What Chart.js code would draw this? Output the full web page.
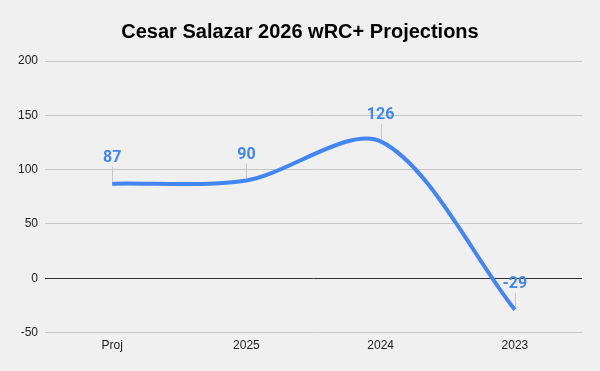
<!DOCTYPE html>
<html>
<head>
<meta charset="utf-8">
<script src="https://cdn.jsdelivr.net/npm/chart.js@4"></script>
<style>
  html, body { margin: 0; padding: 0; background: #f0f0f0; }
  #wrap { width: 600px; height: 371px; }
</style>
</head>
<body>
<div id="wrap"><canvas id="chart" width="600" height="371"></canvas></div>
<script>
const categories = ['Proj', '2025', '2024', '2023'];
const wrcValues = [87, 90, 126, -29];
const yTicks = [-50, 0, 50, 100, 150, 200];

const blue = '#4285F4';

// draws value labels above each point with a thin leader line
const valueLabels = {
  id: 'valueLabels',
  afterDatasetsDraw(chart) {
    const ctx = chart.ctx;
    const meta = chart.getDatasetMeta(0);
    ctx.save();
    meta.data.forEach((pt, i) => {
      ctx.strokeStyle = '#c8c8c8';
      ctx.lineWidth = 1;
      ctx.beginPath();
      ctx.moveTo(Math.round(pt.x) + 0.5, pt.y - 2);
      ctx.lineTo(Math.round(pt.x) + 0.5, pt.y - 17);
      ctx.stroke();
      ctx.fillStyle = blue;
      ctx.font = 'bold 16px Roboto, "Liberation Sans", sans-serif';
      ctx.textAlign = 'center';
      ctx.textBaseline = 'bottom';
      ctx.fillText(String(wrcValues[i]), pt.x, pt.y - 18);
    });
    ctx.restore();
  }
};

new Chart(document.getElementById('chart'), {
  type: 'line',
  data: {
    labels: categories,
    datasets: [{
      label: 'wRC+',
      data: wrcValues,
      borderColor: blue,
      borderWidth: 4,
      pointRadius: 0,
      tension: 0.3,
      fill: false
    }]
  },
  options: {
    responsive: false,
    animation: false,
    layout: { padding: { left: 18, right: 18, top: 0, bottom: 12 } },
    plugins: {
      legend: { display: false },
      tooltip: { enabled: false },
      title: {
        display: true,
        text: 'Cesar Salazar 2026 wRC+ Projections',
        color: '#000',
        font: { family: '"Liberation Sans", Arial, sans-serif', size: 20, weight: 'bold' },
        padding: { top: 20, bottom: 17 }
      }
    },
    scales: {
      x: {
        offset: true,
        grid: { display: false, drawTicks: false },
        border: { display: false },
        ticks: {
          color: '#222',
          padding: 6,
          font: { family: '"Liberation Sans", Arial, sans-serif', size: 12 }
        }
      },
      y: {
        min: -50,
        max: 200,
        afterFit(scale) { scale.width = 27; },
        afterBuildTicks(scale) { scale.ticks = yTicks.map(v => ({ value: v })); },
        grid: {
          drawTicks: false,
          color: c => (c.tick && c.tick.value === 0 ? '#333' : '#c8c8c8'),
          lineWidth: 1
        },
        border: { display: false },
        ticks: {
          color: '#222',
          padding: 7,
          font: { family: '"Liberation Sans", Arial, sans-serif', size: 12 }
        }
      }
    }
  },
  plugins: [valueLabels, {
    id: 'bg',
    beforeDraw(chart) {
      const c = chart.ctx;
      c.save();
      c.fillStyle = '#f0f0f0';
      c.fillRect(0, 0, chart.width, chart.height);
      c.restore();
    }
  }]
});
</script>
</body>
</html>
